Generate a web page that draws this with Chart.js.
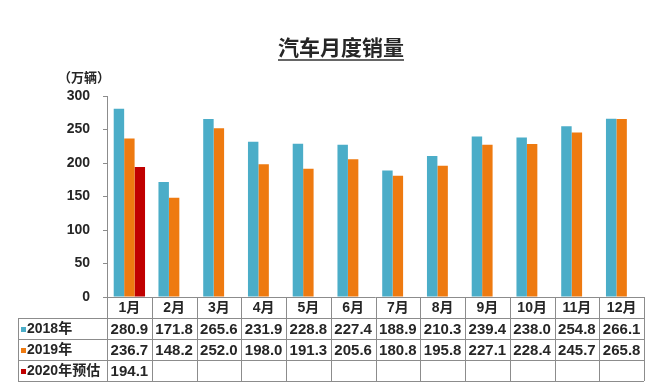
<!DOCTYPE html>
<html>
<head>
<meta charset="utf-8">
<script src="https://cdn.jsdelivr.net/npm/chart.js@4/dist/chart.umd.min.js"></script>
<style>
  html, body { margin: 0; padding: 0; background: #fff; }
  #wrap { width: 657px; height: 382px; position: relative; }
</style>
</head>
<body>
<div id="wrap"><canvas id="c" width="657" height="382"></canvas></div>
<script>
const title = '汽车月度销量';
const unitLabel = '（万辆）';
const categories = ['1月','2月','3月','4月','5月','6月','7月','8月','9月','10月','11月','12月'];
const seriesNames = ['2018年', '2019年', '2020年预估'];
const sales2018 = [280.9, 171.8, 265.6, 231.9, 228.8, 227.4, 188.9, 210.3, 239.4, 238.0, 254.8, 266.1];
const sales2019 = [236.7, 148.2, 252.0, 198.0, 191.3, 205.6, 180.8, 195.8, 227.1, 228.4, 245.7, 265.8];
const sales2020 = [194.1, null, null, null, null, null, null, null, null, null, null, null];
const yTicks = [0, 50, 100, 150, 200, 250, 300];

const colors = ['#4BADC8', '#EE7A10', '#C00000'];
const FONT = "'Liberation Sans', 'Noto Sans CJK SC', Arial, sans-serif";
const TEXT = '#262626';
const LINE = '#8c8c8c';

const tablePlugin = {
  id: 'tablePlugin',
  afterDraw(chart) {
    const ctx = chart.ctx;
    const xs = chart.scales.x;
    const area = chart.chartArea;
    ctx.save();

    // title with underline
    ctx.font = 'bold 21px ' + FONT;
    ctx.fillStyle = TEXT;
    ctx.textAlign = 'center';
    ctx.textBaseline = 'middle';
    const tx = 341, ty = 49;
    ctx.fillText(title, tx, ty);
    const tw = ctx.measureText(title).width;
    ctx.strokeStyle = '#333';
    ctx.lineWidth = 1.5;
    ctx.beginPath();
    ctx.moveTo(tx - tw / 2, ty + 11);
    ctx.lineTo(tx + tw / 2, ty + 11);
    ctx.stroke();

    // unit label
    ctx.font = 'bold 13px ' + FONT;
    ctx.textAlign = 'left';
    ctx.fillText(unitLabel, 58, 78);

    // table
    const rows = [sales2018, sales2019, sales2020];
    const rowH = 21;
    const top = area.bottom;
    const colW = (xs.right - xs.left) / categories.length;
    const leftHeader = 18;
    ctx.strokeStyle = LINE;
    ctx.lineWidth = 1;
    ctx.beginPath();
    ctx.moveTo(xs.left, top + 0.5); ctx.lineTo(xs.right, top + 0.5);
    for (let r = 1; r <= 4; r++) {
      const y = Math.round(top + r * rowH) + 0.5;
      ctx.moveTo(leftHeader, y); ctx.lineTo(xs.right, y);
    }
    for (let i = 0; i <= categories.length; i++) {
      const x = Math.round(xs.left + i * colW) + 0.5;
      ctx.moveTo(x, top); ctx.lineTo(x, top + 4 * rowH);
    }
    ctx.moveTo(leftHeader + 0.5, top + rowH); ctx.lineTo(leftHeader + 0.5, top + 4 * rowH);
    ctx.stroke();

    ctx.fillStyle = TEXT;
    ctx.textAlign = 'center';
    ctx.textBaseline = 'middle';
    ctx.font = 'bold 14px ' + FONT;
    categories.forEach((c, i) => {
      ctx.fillText(c, xs.getPixelForValue(i), top + rowH / 2 + 1);
    });
    rows.forEach((vals, r) => {
      const yc = top + (r + 1) * rowH + rowH / 2 + 1;
      ctx.font = 'bold 15px ' + FONT;
      ctx.textAlign = 'center';
      vals.forEach((v, i) => {
        if (v !== null) ctx.fillText(v.toFixed(1), xs.getPixelForValue(i), yc);
      });
      ctx.fillStyle = colors[r];
      ctx.fillRect(leftHeader + 3, Math.round(yc) - 3, 5, 5);
      ctx.fillStyle = TEXT;
      ctx.textAlign = 'left';
      ctx.font = 'bold 14px ' + FONT;
      ctx.fillText(seriesNames[r], leftHeader + 9, yc);
    });
    ctx.restore();
  }
};

new Chart(document.getElementById('c'), {
  type: 'bar',
  data: {
    labels: categories,
    datasets: [
      { label: seriesNames[0], data: sales2018, backgroundColor: colors[0] },
      { label: seriesNames[1], data: sales2019, backgroundColor: colors[1] },
      { label: seriesNames[2], data: sales2020, backgroundColor: colors[2] }
    ]
  },
  options: {
    responsive: false,
    animation: false,
    layout: { padding: { top: 96, right: 13, bottom: 85, left: 0 } },
    datasets: { bar: { categoryPercentage: 0.7, barPercentage: 1.0 } },
    plugins: { legend: { display: false }, title: { display: false }, tooltip: { enabled: false } },
    scales: {
      x: { display: false },
      y: {
        min: 0, max: 300,
        afterFit(scale) { scale.width = 107; },
        afterBuildTicks(scale) { scale.ticks = yTicks.map(v => ({ value: v })); },
        border: { display: true, color: LINE, width: 1 },
        grid: { drawOnChartArea: false, drawTicks: true, tickLength: 4, color: LINE },
        ticks: { padding: 13, color: TEXT, font: { family: FONT, size: 14, weight: 'bold' } }
      }
    }
  },
  plugins: [tablePlugin]
});
</script>
</body>
</html>
